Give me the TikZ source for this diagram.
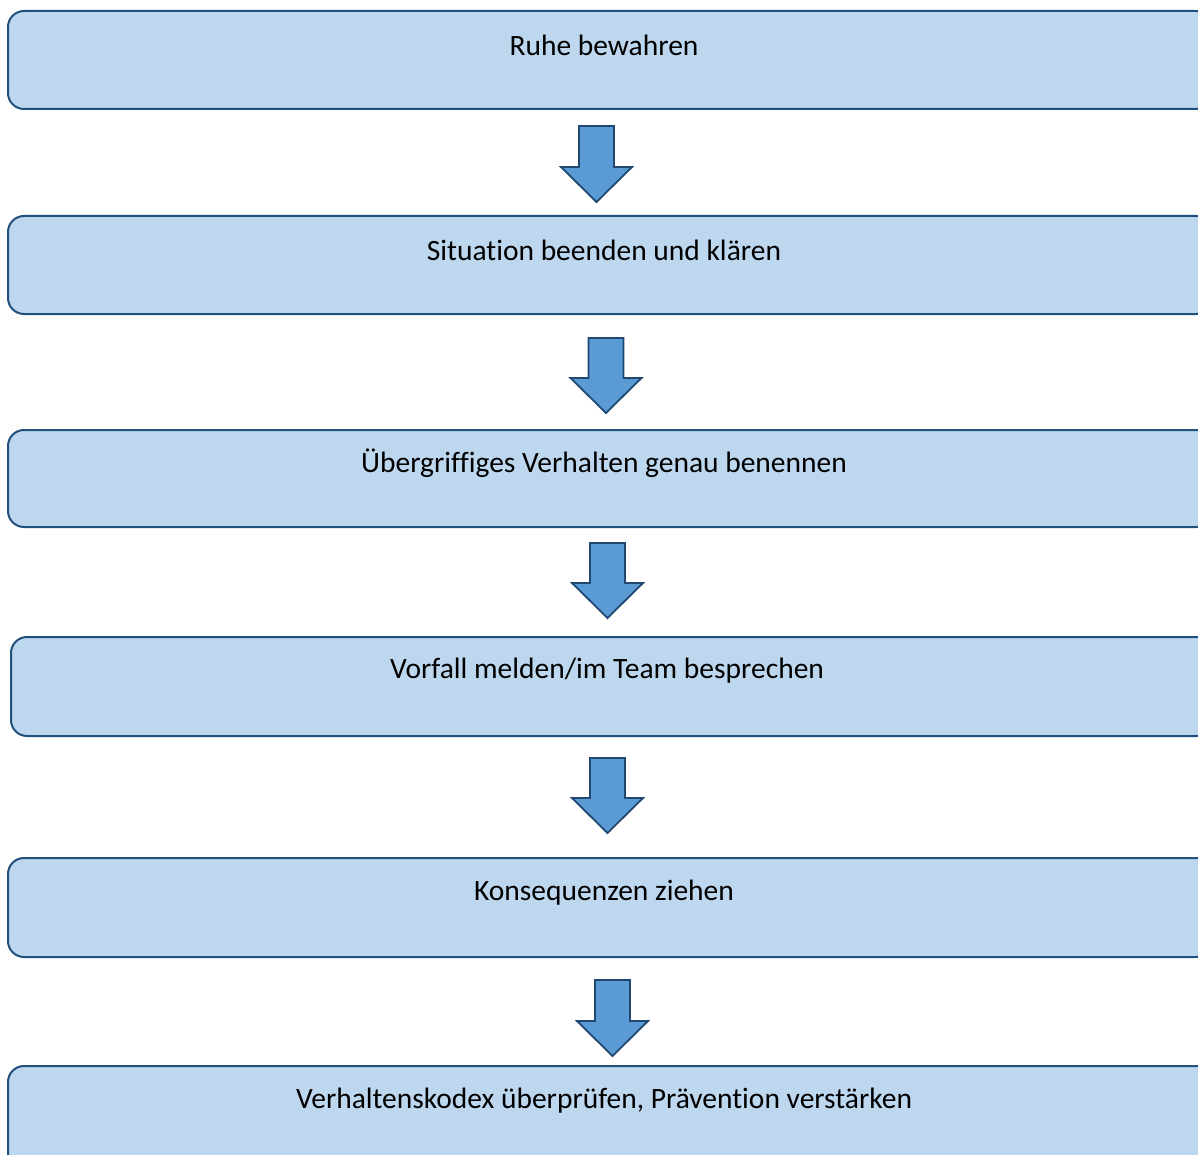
\documentclass[tikz,border=0pt]{standalone}
\usepackage{fontspec}
\setmainfont{Carlito}[Ligatures={TeX,NoCommon}]
\definecolor{boxfill}{RGB}{189,215,238}
\definecolor{boxline}{RGB}{33,80,124}
\definecolor{arrfill}{RGB}{91,155,213}
\definecolor{arrline}{RGB}{32,72,112}
\newcommand\blockarrow[4]{% x, top, tip, name
  \draw[arrowshape] (#1-17.5,#2) coordinate (#4) -- (#1+17.5,#2) -- (#1+17.5,#3-35) -- (#1+35.5,#3-35)
    -- (#1,#3) -- (#1-35.5,#3-35) -- (#1-17.5,#3-35) -- cycle;}
\begin{document}
\begin{tikzpicture}[x=1pt,y=-1pt,
  stepbox/.style={draw=boxline,line width=2pt,fill=boxfill,rounded corners=16pt},
  steptext/.style={font=\fontsize{29.5}{34}\selectfont,text=black,inner sep=0pt},
  arrowshape/.style={draw=arrline,line width=1.8pt,fill=arrfill,line join=miter}]
\useasboundingbox (0,0) rectangle (1198,1155);
\fill[white] (0,0) rectangle (1198,1155);
% boxes
\draw[stepbox] (8,11) rectangle (1212,109);
\draw[stepbox] (8,216) rectangle (1212,314);
\draw[stepbox] (8,430) rectangle (1212,527);
\draw[stepbox] (11,637) rectangle (1212,736);
\draw[stepbox] (8,858) rectangle (1212,957);
\draw[stepbox] (8,1066) rectangle (1212,1175);
% texts
\node[steptext] (t1) at (604,45) {Ruhe bewahren};
\node[steptext] (t2) at (604,250) {Situation beenden und klären};
\node[steptext] (t3) at (604,463) {Übergriffiges Verhalten genau benennen};
\node[steptext] (t4) at (607,671) {Vorfall melden/im Team besprechen};
\node[steptext] (t5) at (604,893) {Konsequenzen ziehen};
\node[steptext] (t6) at (604,1101) {Verhaltenskodex überprüfen, Prävention verstärken};
% arrows
\blockarrow{596.5}{126}{202}{a1}
\blockarrow{606}{338}{413}{a2}
\blockarrow{607.5}{543}{618}{a3}
\blockarrow{607.5}{758}{833}{a4}
\blockarrow{612.5}{980}{1056}{a5}
\end{tikzpicture}
\end{document}
